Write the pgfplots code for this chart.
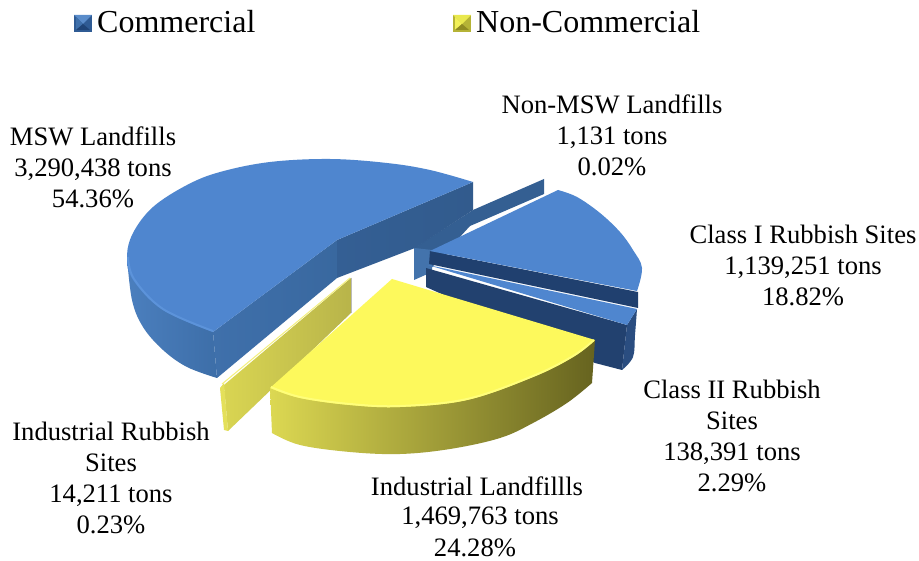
\documentclass[border=0pt]{standalone}
\usepackage{pgfplots}
\pgfplotsset{compat=1.18}
\usepackage{fontspec}
\setmainfont{Liberation Serif}
\definecolor{lb1}{HTML}{2F5B94}\definecolor{lb2}{HTML}{5A8CCA}\definecolor{lb3}{HTML}{3F70AB}\definecolor{lb4}{HTML}{1F4477}
\definecolor{ly1}{HTML}{B5B336}\definecolor{ly2}{HTML}{E9E84E}\definecolor{ly3}{HTML}{F2F058}\definecolor{ly4}{HTML}{8F8B22}
\definecolor{top}{HTML}{4F86CF}\definecolor{bev}{HTML}{5C93DA}
\definecolor{sl1}{HTML}{345F92}\definecolor{sl2}{HTML}{4373AC}
\definecolor{ms1}{HTML}{4B7FBE}\definecolor{ms2}{HTML}{3D6EA8}\definecolor{ms3}{HTML}{3F70AB}\definecolor{ms4}{HTML}{39689F}\definecolor{ms5}{HTML}{345F94}\definecolor{ms6}{HTML}{325B8D}
\definecolor{dk1}{HTML}{20406F}\definecolor{dk2}{HTML}{22416F}\definecolor{dk3}{HTML}{2A4D80}
\definecolor{ir1}{HTML}{D9D552}\definecolor{ir2}{HTML}{B8B44A}\definecolor{ir3}{HTML}{E4E05A}\definecolor{ir4}{HTML}{F4F07A}\definecolor{ir5}{HTML}{BBBBBB}
\definecolor{il1}{HTML}{DCD852}\definecolor{il2}{HTML}{8E8A30}\definecolor{il3}{HTML}{66631F}\definecolor{il4}{HTML}{FDF95C}\definecolor{il5}{HTML}{FFFE7A}
\newcommand\poly[2]{\addplot[fill=#1,draw=none,forget plot] coordinates {#2} --cycle;}
\newcommand\shpoly[2]{\addplot[#1,draw=none,forget plot] coordinates {#2} --cycle;}
\newcommand\arcpoly[3]{\addplot[#1,smooth,tension=0.6,draw=none,forget plot] coordinates {#2} #3;}
\newcommand\edge[3]{\addplot[draw=#1,line width=#2,smooth,tension=0.6,forget plot,line join=round] coordinates {#3};}
\newcommand\lab[3]{\node[align=center,font=\fontsize{26.6}{31}\selectfont,inner sep=0pt] at (axis cs:#1,#2) {#3};}
\begin{document}
\begin{tikzpicture}
\begin{axis}[scale only axis,width=919pt,height=561pt,xmin=0,xmax=919,ymin=0,ymax=561,y dir=reverse,axis lines=none,clip=false]
\poly{white}{(0,0)(919,0)(919,561)(0,561)}
% legend
\poly{lb1}{(74,15)(92,15)(92,32)(74,32)}
\poly{lb2}{(74,15)(92,15)(83,24)}
\poly{lb3}{(76,17)(83,24)(76,30)}
\poly{lb4}{(76,30)(90,30)(83,24)}
\poly{ly1}{(453,15)(471,15)(471,32)(453,32)}
\poly{ly2}{(453,15)(471,15)(462,24)}
\poly{ly3}{(455,17)(462,24)(455,30)}
\poly{ly4}{(455,30)(469,30)(462,24)}
\node[anchor=west,font=\fontsize{32}{36}\selectfont,inner sep=0pt] at (axis cs:97,22) {Commercial};
\node[anchor=west,font=\fontsize{32}{36}\selectfont,inner sep=0pt] at (axis cs:476,22) {Non-Commercial};
% Non-MSW sliver
\poly{sl1}{(544,179)(544,194)(470,226)(425,275)(414,248)(473,210)}
\poly{sl2}{(414,248)(432,250)(432,272)(414,280)}
% MSW side
\arcpoly{left color=ms1,right color=ms2}{(127,257)(132,300)(143,327)(163,350)(187,367)(217,378)}{-- (axis cs:213,332) -- cycle}
\shpoly{left color=ms3,right color=ms4}{(213,332)(337,240)(337,278)(217,378)}
\shpoly{left color=ms5,right color=ms6}{(337,240)(473,182)(473,210)(415,248)(337,278)}
% MSW top
\arcpoly{fill=top}{(213,332)(163,310)(133,280)(127,257)(133,233)(153,207)(187,185)(220,172)(270,162)(330,159)(387,163)(430,170)(473,182)}{-- (axis cs:337,240) -- cycle}
\edge{bev}{2pt}{(213,331)(163,309)(134,279)(128,257)}
% Class I
\poly{dk1}{(430,251)(638,292)(638,308)(429,264)}
\arcpoly{fill=top}{(558,190)(577,197)(600,213)(620,232)(633,250)(642,268)(637,291)}{-- (axis cs:430,251) -- cycle}
% Class II
\poly{dk2}{(426,268)(627,325)(622,370)(595,363)(426,287)}
\arcpoly{fill=dk3}{(637,309)(635,335)(633,357)(622,370)}{-- (axis cs:627,325) -- cycle}
\poly{top}{(428,265)(637,309)(627,325)}
% Industrial Rubbish sliver
\shpoly{left color=ir1,right color=ir2}{(224,385)(351,278)(351,313)(228,431)}
\poly{ir3}{(220,388)(224,383)(228,431)(224,430)}
\addplot[draw=ir4,line width=1pt,forget plot] coordinates {(222,384)(350,278)};
\addplot[draw=ir5,line width=0.8pt,forget plot] coordinates {(351,278)(351,313)};
% Industrial Landfills side
\arcpoly{left color=il1,middle color=il2,right color=il3}{(272,433)(300,445)(350,452)(400,454)(450,449)(500,438)(533,423)(567,403)(592,383)}{-- (axis cs:595,340) -- (axis cs:270,388) -- cycle}
% Industrial Landfills top
\arcpoly{fill=il4}{(270,388)(300,398)(350,405)(400,407)(467,400)(533,377)(573,357)(595,340)}{-- (axis cs:392,279) -- cycle}
\edge{il5}{2pt}{(271,387)(300,397)(350,404)(400,406)(467,399)(533,376)(573,356)(594,340)}
% labels
\lab{93}{167}{MSW Landfills\\3,290,438 tons\\54.36\%}
\lab{612}{135}{Non-MSW Landfills\\1,131 tons\\0.02\%}
\lab{803}{265}{Class I Rubbish Sites\\1,139,251 tons\\18.82\%}
\lab{732}{436}{Class II Rubbish\\Sites\\138,391 tons\\2.29\%}
\lab{111}{478}{Industrial Rubbish\\Sites\\14,211 tons\\0.23\%}
\lab{477}{486}{Industrial Landfillls}
\lab{480}{518}{1,469,763 tons}
\lab{475}{548}{24.28\%}
\end{axis}
\end{tikzpicture}
\end{document}
